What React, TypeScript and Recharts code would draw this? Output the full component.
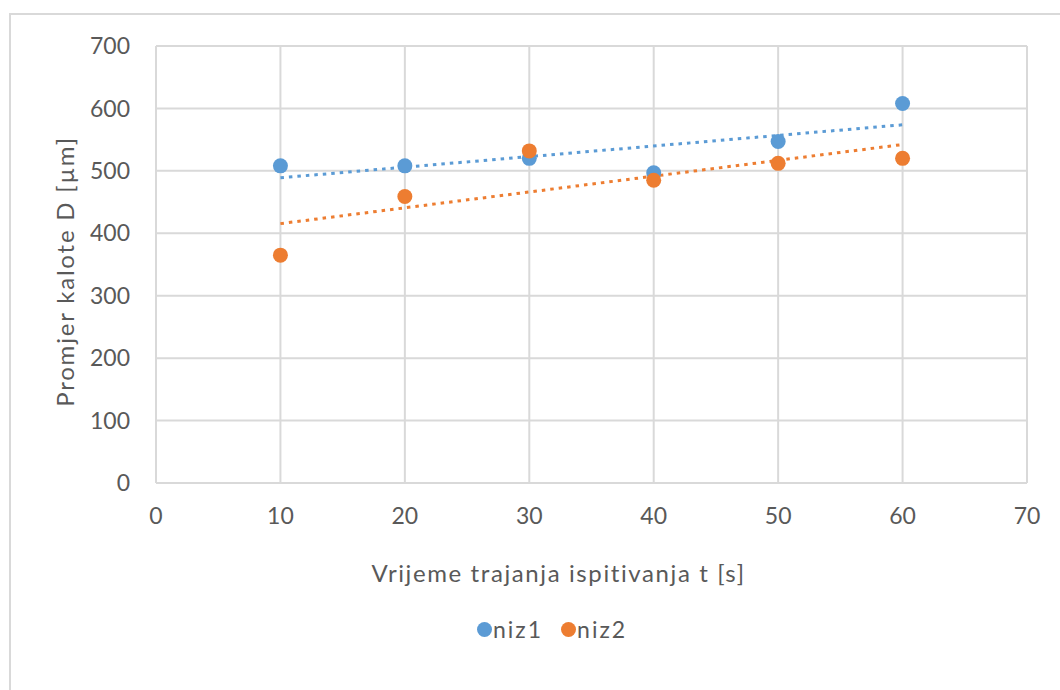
import React from 'react';
import { ScatterChart, Scatter, XAxis, YAxis, CartesianGrid, Legend, Label } from 'recharts';

const times = [10, 20, 30, 40, 50, 60];
const niz1 = [508, 508, 520, 497, 547, 608];
const niz2 = [365, 459, 532, 485, 512, 520];
const xTicks = [0, 10, 20, 30, 40, 50, 60, 70];
const yTicks = [0, 100, 200, 300, 400, 500, 600, 700];
const seriesNames = ['niz1', 'niz2'];
const xTitle = 'Vrijeme trajanja ispitivanja t [s]';
const yTitle = 'Promjer kalote D [µm]';

const BLUE = '#5B9BD5';
const ORANGE = '#ED7D31';
const TEXT = '#595959';
const GRID = '#D9D9D9';
const FONT = 'Lato, "Open Sans", sans-serif';
const FS = 23;
const TITLE_FS = 24;

function toPoints(xs: number[], ys: number[]) {
  return xs.map((x, i) => ({ x, y: ys[i] }));
}

// Linear least-squares trendline (as Excel's linear trendline), evaluated at first and last x
function trend(xs: number[], ys: number[]) {
  const n = xs.length;
  const mx = xs.reduce((s, v) => s + v, 0) / n;
  const my = ys.reduce((s, v) => s + v, 0) / n;
  let sxy = 0;
  let sxx = 0;
  for (let i = 0; i < n; i++) {
    sxy += (xs[i] - mx) * (ys[i] - my);
    sxx += (xs[i] - mx) * (xs[i] - mx);
  }
  const b = sxy / sxx;
  const a = my - b * mx;
  const ends = [xs[0], xs[n - 1]];
  return ends.map((x) => ({ x, y: a + b * x }));
}

const data1 = toPoints(times, niz1);
const data2 = toPoints(times, niz2);
const trend1 = trend(times, niz1);
const trend2 = trend(times, niz2);

const dot = (color: string) => (props: any) => (
  <circle cx={props.cx} cy={props.cy} r={7.5} fill={color} />
);
const noDot = () => <g />;

const LegendContent = () => (
  <div style={{ display: 'flex', alignItems: 'center', fontFamily: FONT, fontSize: FS, color: TEXT, letterSpacing: 2 }}>
    {seriesNames.map((name, i) => (
      <div key={name} style={{ display: 'flex', alignItems: 'center', marginRight: i === 0 ? 18 : 0 }}>
        <span
          style={{
            display: 'inline-block',
            width: 15,
            height: 15,
            borderRadius: '50%',
            background: i === 0 ? BLUE : ORANGE,
            marginRight: 1,
          }}
        />
        <span>{name}</span>
      </div>
    ))}
  </div>
);

export default function App() {
  return (
    <div>
      <div
        style={{
          position: 'absolute',
          left: 9,
          top: 13,
          width: 1051,
          height: 677,
          boxSizing: 'border-box',
          borderLeft: `2px solid ${GRID}`,
          borderTop: `2px solid ${GRID}`,
          background: '#fff',
        }}
      />
      <div style={{ position: 'absolute', left: 0, top: 0, width: 1060, height: 690 }}>
        <ScatterChart width={1060} height={690} margin={{ top: 46, right: 33, bottom: 177, left: 10 }}>
          <CartesianGrid stroke={GRID} strokeWidth={2} />
          <XAxis
            type="number"
            dataKey="x"
            domain={[0, 70]}
            ticks={xTicks}
            height={30}
            axisLine={false}
            tickLine={false}
            tickSize={6}
            tickMargin={19}
            tick={{ fill: TEXT, fontSize: FS, fontFamily: FONT }}
          >
            <Label
              content={(p: any) => {
                const vb = p.viewBox;
                return (
                  <text
                    x={vb.x + vb.width / 2 - 33}
                    y={582}
                    textAnchor="middle"
                    fill={TEXT}
                    fontSize={TITLE_FS}
                    fontFamily={FONT}
                    letterSpacing={1.6}
                  >
                    {xTitle}
                  </text>
                );
              }}
            />
          </XAxis>
          <YAxis
            type="number"
            dataKey="y"
            domain={[0, 700]}
            ticks={yTicks}
            width={146}
            axisLine={false}
            tickLine={false}
            tickSize={6}
            tickMargin={20}
            tick={{ fill: TEXT, fontSize: FS, fontFamily: FONT }}
          >
            <Label
              content={(p: any) => {
                const vb = p.viewBox;
                const cx = 74;
                const cy = vb.y + vb.height / 2 + 7;
                return (
                  <text
                    x={cx}
                    y={cy}
                    transform={`rotate(-90, ${cx}, ${cy})`}
                    textAnchor="middle"
                    fill={TEXT}
                    fontSize={TITLE_FS}
                    fontFamily={FONT}
                    letterSpacing={1.8}
                  >
                    {yTitle}
                  </text>
                );
              }}
            />
          </YAxis>
          <Scatter
            data={trend1}
            line={{ stroke: BLUE, strokeWidth: 3, strokeDasharray: '3.5 5' }}
            shape={noDot}
            legendType="none"
            isAnimationActive={false}
          />
          <Scatter
            data={trend2}
            line={{ stroke: ORANGE, strokeWidth: 3, strokeDasharray: '3.5 5' }}
            shape={noDot}
            legendType="none"
            isAnimationActive={false}
          />
          <Scatter name={seriesNames[0]} data={data1} fill={BLUE} shape={dot(BLUE)} isAnimationActive={false} />
          <Scatter name={seriesNames[1]} data={data2} fill={ORANGE} shape={dot(ORANGE)} isAnimationActive={false} />
          <Legend
            layout="horizontal"
            verticalAlign="middle"
            align="center"
            content={LegendContent}
            wrapperStyle={{ position: 'absolute', left: 477, top: 615, width: 'auto' }}
          />
        </ScatterChart>
      </div>
    </div>
  );
}
